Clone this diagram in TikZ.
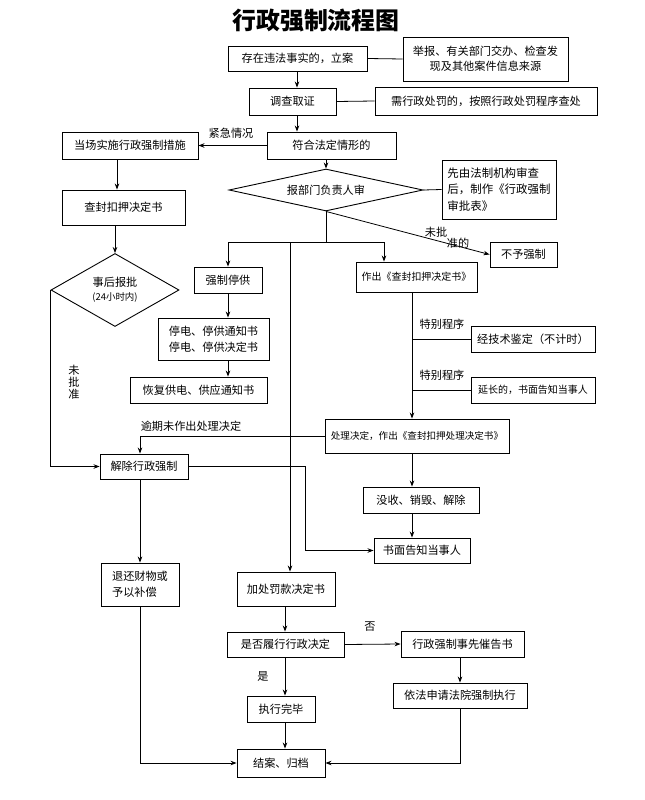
\documentclass[tikz,border=0pt]{standalone}
\usepackage{fontspec}
\setmainfont{Noto Sans CJK SC}
\usetikzlibrary{shapes.geometric,arrows.meta}
\begin{document}
\begin{tikzpicture}[x=1bp,y=-1bp,
  box/.style={draw,line width=0.9bp,inner sep=1bp,align=center,font=\fontsize{11.2}{15}\selectfont},
  sz/.style 2 args={minimum width=#1bp,minimum height=#2bp},
  dia/.style={draw,shape=diamond,line width=0.9bp,inner sep=0bp,align=center,font=\fontsize{11.2}{15}\selectfont},
  arr/.style={-{Stealth[length=6bp,width=4.5bp]},line width=0.8bp},
  ln/.style={line width=0.8bp},
  lbl/.style={inner sep=0bp,font=\fontsize{11.2}{13}\selectfont}]
\useasboundingbox (0,0) rectangle (645,800);
\fill[white] (0,0) rectangle (645,800);

\node[inner sep=0bp,font=\fontsize{24}{28}\selectfont\bfseries] (title) at (316,21) {行政强制流程图};

\node[box,sz={139}{25}] (A) at (297.5,58.5) {存在违法事实的，立案};
\node[box,sz={165}{44}] (B) at (485.5,59) {举报、有关部门交办、检查发\\现及其他案件信息来源};
\node[box,sz={87}{27}] (C) at (292.5,101.5) {调查取证};
\node[box,sz={222}{28}] (D) at (486,101) {需行政处罚的，按照行政处罚程序查处};
\node[box,sz={129}{27}] (E) at (331.5,145.5) {符合法定情形的};
\node[box,sz={136}{27}] (F) at (130,145.5) {当场实施行政强制措施};
\node[dia,aspect=4,sz={194}{42}] (G) at (326,190) {报部门负责人审};
\node[box,sz={114}{59},align=left,font=\fontsize{11.5}{16.5}\selectfont] (H) at (499,189.5) {先由法制机构审查\\后，制作《行政强制\\审批表》};
\node[box,sz={67}{25}] (I) at (523.5,254.5) {不予强制};
\node[box,sz={123}{35}] (J) at (123.5,207.5) {查封扣押决定书};
\node[dia,aspect=1.75,sz={128}{73}] (K) at (115,290) {事后报批\\[-1bp]{\fontsize{9.5}{11}\selectfont(24小时内)}};
\node[box,sz={68}{26}] (L) at (228,280) {强制停供};
\node[box,sz={121}{30},font=\fontsize{10}{13}\selectfont] (M) at (416.5,277) {作出《查封扣押决定书》};
\node[box,sz={111}{42},font=\fontsize{11.2}{16}\selectfont] (N) at (213.5,339) {停电、停供通知书\\停电、停供决定书};
\node[box,sz={137}{26}] (O) at (198.5,390) {恢复供电、供应通知书};
\node[box,sz={124}{26}] (Q) at (533,339) {经技术鉴定（不计时）};
\node[box,sz={124}{26},font=\fontsize{10}{13}\selectfont] (R) at (533,390) {延长的，书面告知当事人};
\node[box,sz={184}{34},font=\fontsize{9.6}{12}\selectfont] (P) at (417,436) {处理决定，作出《查封扣押处理决定书》};
\node[box,sz={88}{25}] (S) at (144,466.5) {解除行政强制};
\node[box,sz={116}{26}] (U) at (421,500) {没收、销毁、解除};
\node[box,sz={96}{25}] (T) at (422,550.5) {书面告知当事人};
\node[box,sz={78}{43},align=left,font=\fontsize{11.2}{16}\selectfont] (V) at (140,584.5) {退还财物或\\予以补偿};
\node[box,sz={98}{34}] (W) at (286,589) {加处罚款决定书};
\node[box,sz={117}{25}] (X) at (285.5,644.5) {是否履行行政决定};
\node[box,sz={123}{26}] (Y) at (462.5,644) {行政强制事先催告书};
\node[box,sz={134}{25}] (Z) at (460,695.5) {依法申请法院强制执行};
\node[box,sz={68}{26}] (AA) at (281,709) {执行完毕};
\node[box,sz={88}{28}] (BB) at (281,763) {结案、归档};

% labels
\node[lbl] (l1) at (231,133) {紧急情况};
\node[lbl] (l2) at (436,232) {未批};
\node[lbl] (l3) at (458,243) {准的};
\node[lbl] (l4) at (442,324) {特别程序};
\node[lbl] (l5) at (442,375) {特别程序};
\node[lbl] (l6) at (191,426) {逾期未作出处理决定};
\node[lbl,align=center,font=\fontsize{11.2}{12}\selectfont] (l7) at (74,382) {未\\批\\准};
\node[lbl] (l8) at (370,627) {否};
\node[lbl] (l9) at (263,676) {是};

% helper coordinates
\coordinate (acol) at (297,0);
\coordinate (cl) at (117,0);
\coordinate (bar) at (326,242);
\coordinate (mcol) at (384,0);
\coordinate (lcol) at (290,0);
\coordinate (rcol) at (412,0);
\coordinate (scol) at (140,0);
\coordinate (tcol) at (305,0);
\coordinate (xcol) at (285,0);
\coordinate (zcol) at (460,0);

% connectors
\draw[ln] (A.east) -- (B.west);
\draw[arr] (acol |- A.south) -- (acol |- C.north);
\draw[ln] (C.east) -- (D.west);
\draw[arr] (acol |- C.south) -- (acol |- E.north);
\draw[arr] (E.west) -- (F.east);
\draw[arr] (G.north |- E.south) -- (G.north);
\draw[ln] (G.east) -- (H.west);
\draw[arr] (G.south) -- (I.west);
\draw[arr] (cl |- F.south) -- (cl |- J.north);
\draw[arr] (K.north |- J.south) -- (K.north);
\draw[ln] (G.south) -- (bar);
\draw[ln] (L.north |- bar) -- (mcol |- bar);
\draw[arr] (L.north |- bar) -- (L.north);
\draw[arr] (mcol |- bar) -- (mcol |- M.north);
\draw[arr] (lcol |- bar) -- (lcol |- W.north);
\draw[arr] (L.south) -- (L.south |- N.north);
\draw[arr] (L.south |- N.south) -- (L.south |- O.north);
\draw[arr] (rcol |- M.south) -- (rcol |- P.north);
\draw[ln] (rcol |- Q.west) -- (Q.west);
\draw[ln] (rcol |- R.west) -- (R.west);
\draw[arr] (P.west) -- (scol |- P.west) -- (scol |- S.north);
\draw[arr] (K.west) -- (K.west |- S.west) -- (S.west);
\draw[arr] (S.east) -- (tcol |- S.east) -- (tcol |- T.west) -- (T.west);
\draw[arr] (rcol |- P.south) -- (rcol |- U.north);
\draw[arr] (rcol |- U.south) -- (rcol |- T.north);
\draw[arr] (scol |- S.south) -- (scol |- V.north);
\draw[arr] (xcol |- W.south) -- (xcol |- X.north);
\draw[arr] (X.east) -- (Y.west);
\draw[arr] (zcol |- Y.south) -- (zcol |- Z.north);
\draw[arr] (xcol |- X.south) -- (xcol |- AA.north);
\draw[arr] (xcol |- AA.south) -- (xcol |- BB.north);
\draw[arr] (scol |- V.south) -- (scol |- BB.west) -- (BB.west);
\draw[arr] (zcol |- Z.south) -- (zcol |- BB.east) -- (BB.east);
\end{tikzpicture}
\end{document}
